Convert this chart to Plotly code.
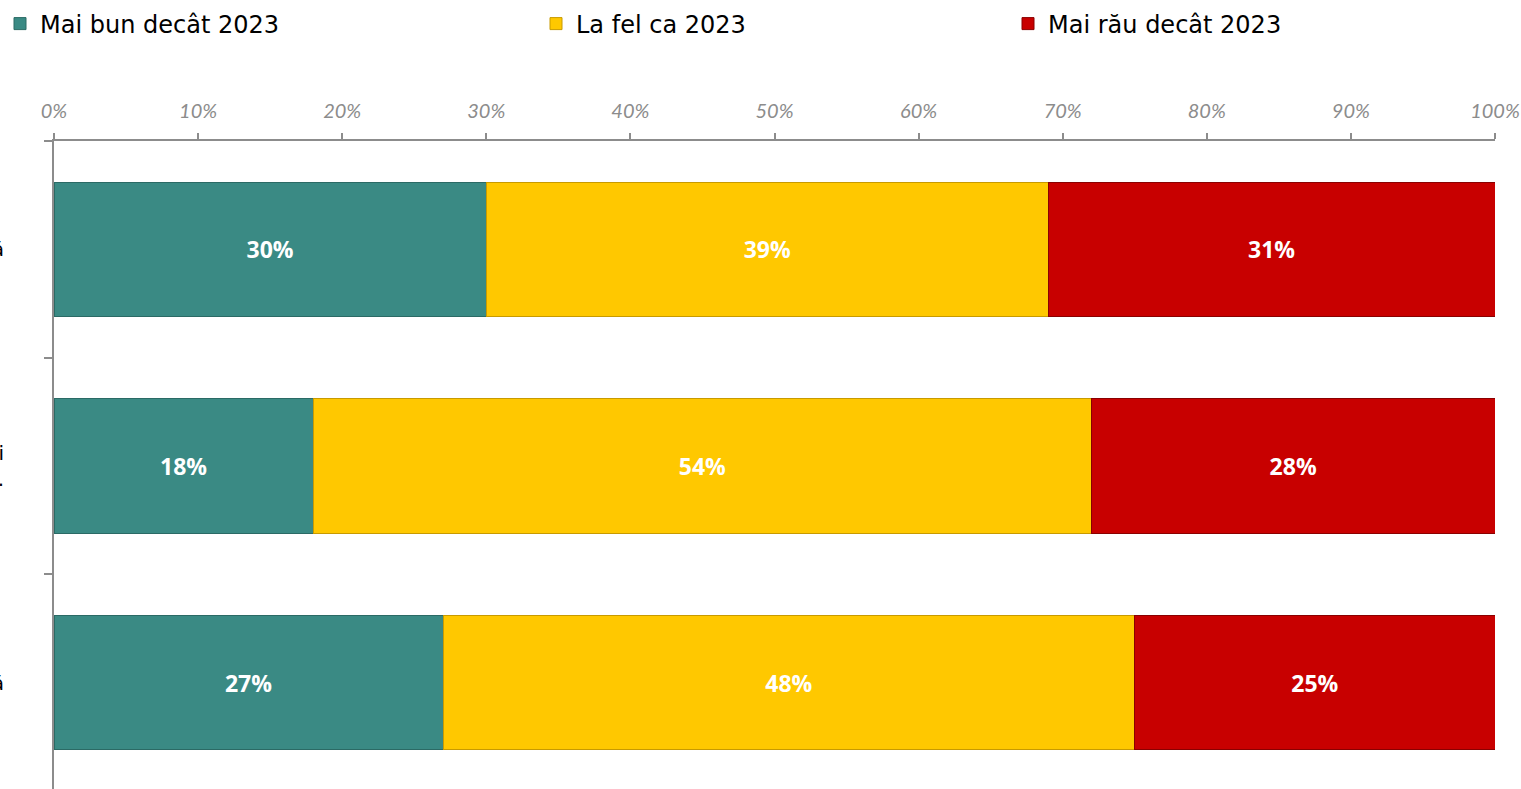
import plotly.graph_objects as go

categories = ["Situația economică în țară", "Bunăstarea familiei<br>dvs.", "Viața personală"]
series_names = ["Mai bun decât 2023", "La fel ca 2023", "Mai rău decât 2023"]
better = [30, 18, 27]
same = [39, 54, 48]
worse = [31, 28, 25]
tick_vals = [0, 10, 20, 30, 40, 50, 60, 70, 80, 90, 100]
tick_text = ["0%", "10%", "20%", "30%", "40%", "50%", "60%", "70%", "80%", "90%", "100%"]

colors = ["#3A8A84", "#FFC800", "#C80000"]
line_colors = ["#2B6A65", "#C89A00", "#8A0000"]
legends = ["legend", "legend2", "legend3"]

fig = go.Figure()
for name, vals, c, lc, lg in zip(series_names, [better, same, worse], colors, line_colors, legends):
    fig.add_trace(go.Bar(
        y=categories, x=vals, name=name, orientation="h",
        marker=dict(color=c, line=dict(color=lc, width=1)),
        text=[f"{v}%" for v in vals], textposition="inside",
        insidetextanchor="middle", textangle=0, constraintext="none",
        textfont=dict(family="Open Sans", size=23, color="white", weight="bold"),
        legend=lg, hoverinfo="skip", showlegend=True,
    ))

W, H = 1521, 789
L, R, T, B = 54, 26, 141, 0


def cx(p):
    return p / W


def cy(p):
    return 1 - p / H


legend_font = dict(family="DejaVu Sans", size=24, color="#000000")
common = dict(orientation="h", yanchor="middle", xanchor="left", font=legend_font,
              bgcolor="rgba(0,0,0,0)", itemwidth=30, xref="container", yref="container",
              visible=True)
fig.update_layout(
    width=W, height=H, showlegend=True,
    margin=dict(l=L, r=R, t=T, b=B, pad=0, autoexpand=False),
    barmode="stack", bargap=0.38,
    plot_bgcolor="white", paper_bgcolor="white",
    legend=dict(x=0, y=cy(24), **common),
    legend2=dict(x=cx(576 - 40), y=cy(24), **common),
    legend3=dict(x=cx(1048 - 40), y=cy(24), **common),
    xaxis=dict(
        side="top", range=[0, 100], tickvals=tick_vals, ticktext=tick_text,
        showgrid=False, zeroline=False, showline=True, linecolor="#8C8C8C", linewidth=2,
        ticks="outside", ticklen=6, tickcolor="#8C8C8C", tickwidth=2,
        tickfont=dict(family="Lato", size=20, color="#8C8C8C", style="italic"),
        ticklabelstandoff=7, automargin=False,
    ),
    yaxis=dict(
        range=[2.49, -0.5], showgrid=False, showline=True, linecolor="#8C8C8C", linewidth=2,
        ticks="outside", ticklen=8, tickcolor="#8C8C8C", tickwidth=2, tickson="boundaries",
        tickfont=dict(family="DejaVu Sans", size=20, color="#000000"),
        ticklabelstandoff=44, automargin=False,
    ),
)

fig.write_html(
    "out.html",
    config={"displayModeBar": False},
    post_script="document.body.style.margin='0';document.body.style.overflow='hidden';",
)
